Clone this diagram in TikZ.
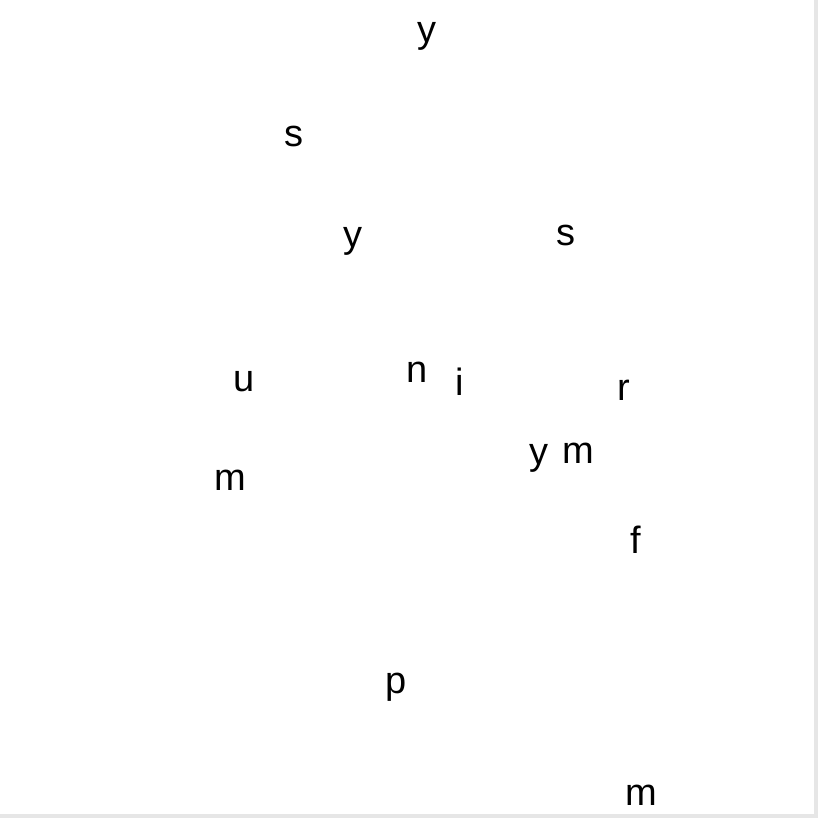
\documentclass[tikz,border=0pt]{standalone}
\usepackage{fontspec}
\setmainfont{Liberation Sans}
\usepackage{tikz}
\definecolor{edgegray}{HTML}{E6E6E6}

\begin{document}
\begin{tikzpicture}[x=1pt,y=1pt]
        \tikzstyle{letter}=[inner sep=0pt, anchor=base, font=\fontsize{38}{40}\selectfont]
        \useasboundingbox (0,0) rectangle (820,-820);
        \fill [edgegray] (814,0) rectangle (818,-818);
        \fill [edgegray] (0,-814) rectangle (818,-818);
        \begin{scope}
          \node [letter] (y1) at (427,-42) {y};
          \node [letter] (s1) at (294,-146) {s};
          \node [letter] (y2) at (353,-247) {y};
          \node [letter] (s2) at (566,-245) {s};
          \node [letter] (u1) at (244,-391) {u};
          \node [letter] (n1) at (417,-382) {n};
          \node [letter] (i1) at (460,-395) {i};
          \node [letter] (r1) at (624,-400) {r};
          \node [letter] (y3) at (539,-464) {y};
          \node [letter] (m1) at (578,-463) {m};
          \node [letter] (m2) at (230,-490) {m};
          \node [letter] (f1) at (636,-553) {f};
          \node [letter] (p1) at (396,-693) {p};
          \node [letter] (m3) at (641,-805) {m};
        \end{scope}
      \end{tikzpicture}
\end{document}
